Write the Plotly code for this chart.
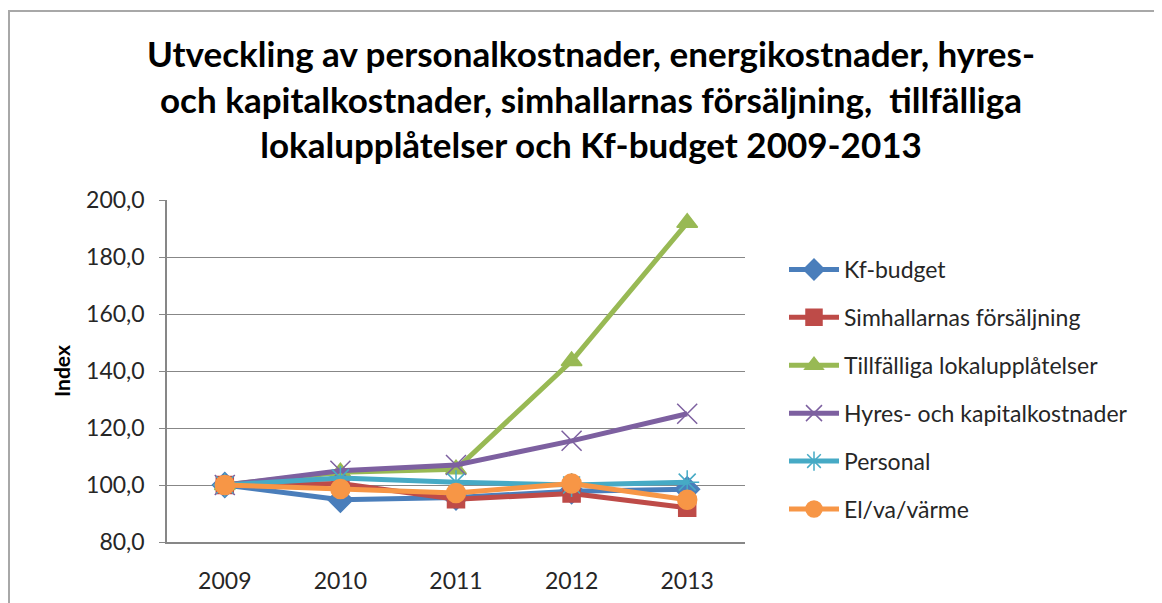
import plotly.graph_objects as go

years = ["2009", "2010", "2011", "2012", "2013"]
series_names = ["Kf-budget", "Simhallarnas försäljning", "Tillfälliga lokalupplåtelser",
                "Hyres- och kapitalkostnader", "Personal", "El/va/värme"]
kf_budget = [100.0, 94.8, 95.6, 97.8, 98.5]
simhallarnas = [100.0, 100.5, 95.0, 97.0, 92.0]
tillfalliga = [100.0, 104.5, 105.5, 143.5, 192.0]
hyres = [100.0, 105.0, 107.0, 115.5, 125.0]
personal = [100.0, 102.5, 101.0, 100.0, 101.0]
el_va_varme = [100.0, 98.6, 97.2, 100.5, 94.8]
y_ticks = [80, 100, 120, 140, 160, 180, 200]
y_tick_labels = ["80,0", "100,0", "120,0", "140,0", "160,0", "180,0", "200,0"]

values = [kf_budget, simhallarnas, tillfalliga, hyres, personal, el_va_varme]
colors = ["#4A7EBB", "#BE4B48", "#98B954", "#7D60A0", "#46AAC5", "#F79646"]
symbols = ["diamond", "square", "triangle-up", "x-thin-open", "asterisk-open", "circle"]
sizes = [19, 17, 18, 20, 20, 19]

fig = go.Figure()
for i, (name, vals, c, s, sz) in enumerate(zip(series_names, values, colors, symbols, sizes)):
    fig.add_trace(go.Scatter(
        x=years, y=vals, name=name, mode="lines+markers", legendgroup=f"g{i}",
        line=dict(color=c, width=5),
        marker=dict(symbol=s, size=sz, color=c, line=dict(color=c, width=1.5)),
    ))

OFF = 8  # page body margin
L, R, T, B = 167 - OFF, 745 - OFF, 200 - OFF, 542 - OFF
W, H = 1162, 603
pw, ph = R - L, B - T

fig.update_layout(
    width=W, height=H,
    margin=dict(l=L, r=W - R, t=T, b=H - B, pad=0),
    paper_bgcolor="white", plot_bgcolor="white",
    font=dict(family="Lato, Open Sans, sans-serif", color="#262626"),
    title=dict(
        text="Utveckling av personalkostnader, energikostnader, hyres-<br>"
             "och kapitalkostnader, simhallarnas försäljning,  tillfälliga<br>"
             "lokalupplåtelser och Kf-budget 2009-2013",
        x=(591 - OFF) / W, xanchor="center", y=1 - (67 - OFF) / H, yanchor="top",
        font=dict(family="Lato, Open Sans, sans-serif", size=35, color="black", weight="bold"),
    ),
    showlegend=True,
    legend=dict(
        x=(784 - OFF - L) / pw, xanchor="left", y=(B - (248 - OFF)) / ph, yanchor="top",
        font=dict(size=23, color="#262626"),
        tracegroupgap=15, itemwidth=50,
        bgcolor="rgba(0,0,0,0)",
    ),
    xaxis=dict(
        type="category", showgrid=False, showline=True, linecolor="#878787", linewidth=1.5,
        ticks="", tickfont=dict(size=23, color="#262626"), ticklabelstandoff=18,
        range=[-0.5, 4.5], fixedrange=True,
    ),
    yaxis=dict(
        range=[80, 200], tickvals=y_ticks, ticktext=y_tick_labels,
        showgrid=True, gridcolor="#878787", gridwidth=1.2,
        showline=True, linecolor="#878787", linewidth=1.5,
        ticks="outside", ticklen=6, tickcolor="#878787",
        tickfont=dict(size=23, color="#262626"), ticklabelstandoff=10,
        zeroline=False,
    ),
    annotations=[dict(
        text="<b>Index</b>", textangle=-90, showarrow=False,
        xref="paper", yref="paper", x=(61 - OFF - L) / pw, y=0.5,
        xanchor="center", yanchor="middle",
        font=dict(size=21, color="black"),
    )],
    shapes=[dict(
        type="rect", xref="paper", yref="paper",
        x0=(9 - OFF - L) / pw, x1=(W + 30 - L) / pw,
        y0=(B - (H + 30)) / ph, y1=(B - (11 - OFF)) / ph,
        line=dict(color="#a8a8a8", width=2), fillcolor="rgba(0,0,0,0)", layer="below",
    )],
)

fig.write_html("out.html")
